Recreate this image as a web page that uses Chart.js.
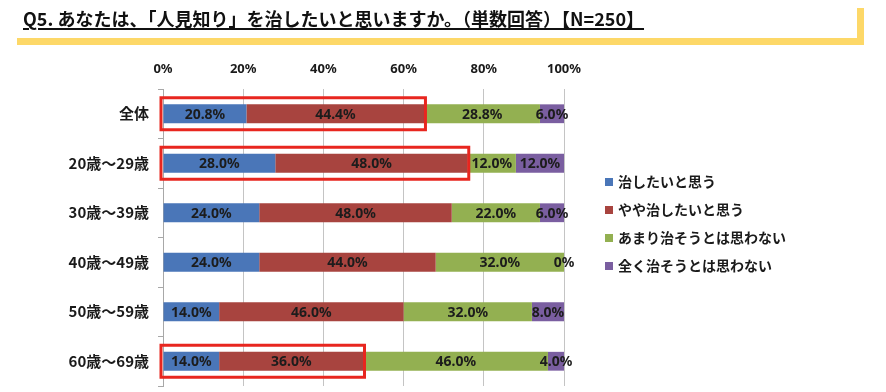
<!DOCTYPE html>
<html>
<head>
<meta charset="utf-8">
<script src="https://cdn.jsdelivr.net/npm/chart.js@4"></script>
<style>
  body { margin: 0; background: #fff; }
  #wrap { position: relative; width: 886px; height: 392px; overflow: hidden; }
  #title {
    position: absolute; left: 23px; top: 6px;
    font: bold 18px "Noto Sans CJK JP", sans-serif; line-height: 24px;
    color: #111; white-space: nowrap;
    text-decoration: underline; text-decoration-thickness: 1.5px; text-underline-offset: 2px;
  }
  #barH { position: absolute; left: 17px; top: 38px; width: 847px; height: 7px; background: #fdd868; }
  #barV { position: absolute; left: 857px; top: 8px; width: 7px; height: 37px; background: #fdd868; }
  #chart { position: absolute; left: 0; top: 0; }
  #legend { position: absolute; left: 605px; top: 171px; }
  .item { height: 28px; line-height: 28px; white-space: nowrap;
          font: bold 14px "Noto Sans CJK JP", sans-serif; color: #1a1a1a; }
  .box { display: inline-block; width: 8px; height: 8px; margin-right: 5px; vertical-align: 1px; }
</style>
</head>
<body>
<div id="wrap">
  <canvas id="chart" width="886" height="392"></canvas>
  <div id="barH"></div>
  <div id="barV"></div>
  <div id="title">Q5. あなたは、「人見知り」を治したいと思いますか。（単数回答）【N=250】</div>
  <div id="legend"></div>
</div>
<script>
const categories = ["全体", "20歳～29歳", "30歳～39歳", "40歳～49歳", "50歳～59歳", "60歳～69歳"];
const seriesNames = ["治したいと思う", "やや治したいと思う", "あまり治そうとは思わない", "全く治そうとは思わない"];
const wantCure = [20.8, 28.0, 24.0, 24.0, 14.0, 14.0];
const somewhatCure = [44.4, 48.0, 48.0, 44.0, 46.0, 36.0];
const notMuch = [28.8, 12.0, 22.0, 32.0, 32.0, 46.0];
const notAtAll = [6.0, 12.0, 6.0, 0, 8.0, 4.0];
const tickValues = [0, 20, 40, 60, 80, 100];
const highlightRows = [0, 1, 5]; // rows boxed in red (first two answers)

const colors = ["#4a76b8", "#a8443f", "#93b051", "#7a5ea0"];
const labelFont = "bold 14px 'Noto Sans', sans-serif";

// red boxes round the first two segments
const highlightPlugin = {
    id: "highlight",
    afterDatasetsDraw(chart) {
        const ctx = chart.ctx;
        const x = chart.scales.x;
        const y = chart.scales.y;
        ctx.save();
        ctx.strokeStyle = "#e8261f";
        ctx.lineWidth = 3;
        highlightRows.forEach(i => {
            const left = x.getPixelForValue(0) - 2;
            const right = x.getPixelForValue(wantCure[i] + somewhatCure[i]) + 1;
            const cy = y.getPixelForValue(i);
            ctx.strokeRect(left, cy - 16, right - left, 32);
        });
        ctx.restore();
    }
};

// value labels in the middle of every segment
const valueLabels = {
    id: "valueLabels",
    afterDraw(chart) {
        const ctx = chart.ctx;
        ctx.save();
        ctx.font = labelFont;
        ctx.fillStyle = "#1c1c1c";
        ctx.textAlign = "center";
        ctx.textBaseline = "middle";
        chart.data.datasets.forEach((ds, d) => {
            chart.getDatasetMeta(d).data.forEach((bar, i) => {
                const v = ds.data[i];
                const txt = v === 0 ? "0%" : v.toFixed(1) + "%";
                ctx.fillText(txt, (bar.x + bar.base) / 2, bar.y + 1);
            });
        });
        ctx.restore();
    }
};

const data = {
    labels: categories,
    datasets: [wantCure, somewhatCure, notMuch, notAtAll].map((vals, k) => ({
        label: seriesNames[k],
        data: vals,
        backgroundColor: colors[k],
        borderWidth: 0,
        barPercentage: 0.38,
        categoryPercentage: 1
    }))
};

const chart = new Chart(document.getElementById("chart"), {
    type: "bar",
    data: data,
    plugins: [highlightPlugin, valueLabels],
    options: {
        indexAxis: "y",
        responsive: false,
        animation: false,
        layout: { padding: { top: 61, bottom: 6, left: 0, right: 322 } },
        scales: {
            x: {
                position: "top",
                stacked: true,
                min: 0,
                max: 100,
                afterBuildTicks: s => { s.ticks = tickValues.map(v => ({ value: v })); },
                afterFit: s => { s.height = 28; },
                ticks: {
                    padding: 12,
                    color: "#1a1a1a",
                    font: { family: "'Noto Sans', sans-serif", size: 13, weight: "bold" },
                    callback: v => v + "%"
                },
                grid: { color: "#c4c4c4", drawTicks: false },
                border: { display: false }
            },
            y: {
                stacked: true,
                afterFit: s => { s.width = 163; s.paddingTop = 0; s.paddingBottom = 0; },
                ticks: {
                    padding: 9,
                    color: "#1a1a1a",
                    font: { family: "'Noto Sans CJK JP', sans-serif", size: 15, weight: "bold" }
                },
                grid: { offset: true, drawOnChartArea: false, tickLength: 5, color: "#a8a8a8" },
                border: { color: "#a8a8a8" }
            }
        },
        plugins: {
            legend: { display: false },
            tooltip: { enabled: false }
        }
    }
});

// legend built from the chart's own legend items
const legendEl = document.getElementById("legend");
Chart.defaults.plugins.legend.labels.generateLabels(chart).forEach(item => {
    const row = document.createElement("div");
    row.className = "item";
    const box = document.createElement("span");
    box.className = "box";
    box.style.background = item.fillStyle;
    row.appendChild(box);
    row.appendChild(document.createTextNode(item.text));
    legendEl.appendChild(row);
});
</script>
</body>
</html>
